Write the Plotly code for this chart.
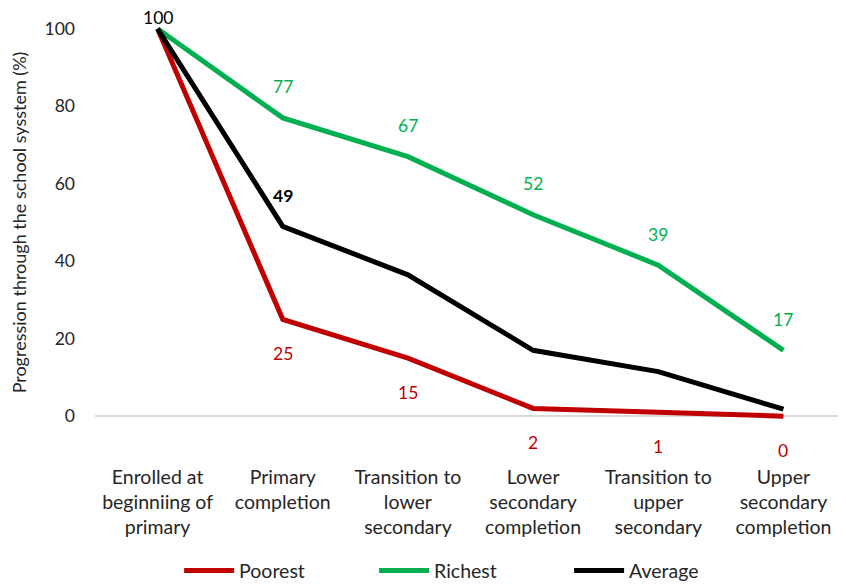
import plotly.graph_objects as go

categories = ["Enrolled at<br>beginniing of<br>primary", "Primary<br>completion",
              "Transition to<br>lower<br>secondary", "Lower<br>secondary<br>completion",
              "Transition to<br>upper<br>secondary", "Upper<br>secondary<br>completion"]
poorest = [100, 25, 15, 2, 1, 0]
richest = [100, 77, 67, 52, 39, 17]
average = [100, 49, 36.5, 17, 11.5, 1.8]

poorest_labels = ["", "25", "15", "2", "1", "0"]
richest_labels = ["", "77", "67", "52", "39", "17"]
average_labels = ["100", "49", "", "", "", ""]

RED = "#C00000"
GREEN = "#00B050"
BLACK = "#000000"
FONT = "Lato, Carlito, 'Open Sans', sans-serif"

fig = go.Figure()
fig.add_trace(go.Scatter(x=categories, y=poorest, mode="lines", name="Poorest",
                         line=dict(color=RED, width=5)))
fig.add_trace(go.Scatter(x=categories, y=richest, mode="lines", name="Richest",
                         line=dict(color=GREEN, width=5)))
fig.add_trace(go.Scatter(x=categories, y=average, mode="lines", name="Average",
                         line=dict(color=BLACK, width=5)))

annotations = []
for c, v, t in zip(categories, poorest, poorest_labels):
    if t:
        annotations.append(dict(x=c, y=v, text=t, showarrow=False, yshift=-34,
                                font=dict(color=RED, size=17.5, family=FONT)))
for c, v, t in zip(categories, richest, richest_labels):
    if t:
        annotations.append(dict(x=c, y=v, text=t, showarrow=False, yshift=31,
                                font=dict(color=GREEN, size=17.5, family=FONT)))
for i, (c, v, t) in enumerate(zip(categories, average, average_labels)):
    if t:
        annotations.append(dict(x=c, y=v, text=("<b>%s</b>" % t) if i == 1 else t,
                                showarrow=False, yshift=11 if i == 0 else 31,
                                font=dict(color=BLACK, size=17.5, family=FONT)))

fig.update_layout(
    width=846, height=588,
    margin=dict(l=87, r=8, t=15, b=174, autoexpand=False),
    paper_bgcolor="white", plot_bgcolor="white",
    font=dict(family=FONT, size=17, color="#262626"),
    showlegend=True,
    legend=dict(orientation="h", x=0.112, xanchor="left", y=-0.373, yanchor="middle",
                font=dict(size=19.5, color="#262626"), entrywidth=130,
                itemwidth=50),
    annotations=annotations,
    xaxis=dict(type="category", range=[-0.5, 5.5], showgrid=False, showline=False,
               ticks="", automargin=False, ticklabelstandoff=41,
               tickfont=dict(size=19.5, color="#262626")),
    yaxis=dict(range=[-1.5, 101.5], tickvals=[0, 20, 40, 60, 80, 100],
               showgrid=False, zeroline=True, zerolinecolor="#d9d9d9", zerolinewidth=1.5,
               showline=False, ticks="", ticklabelstandoff=19, automargin=False,
               tickfont=dict(size=17.5, color="#262626"),
               title=dict(text="Progression through the school sysstem (%)",
                          font=dict(size=18, color="#262626"), standoff=15)),
)

fig.write_html("out.html")
